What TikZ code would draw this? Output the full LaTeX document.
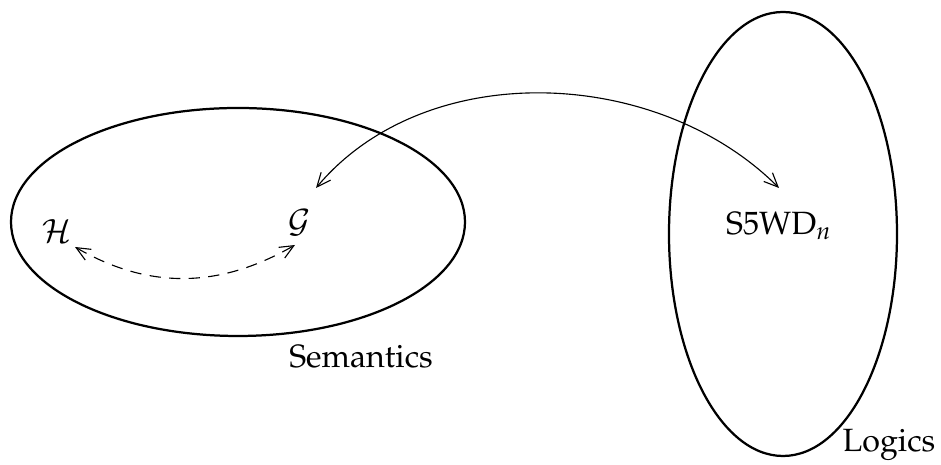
\documentclass[tikz,border=0pt]{standalone}
\usepackage[T1]{fontenc}
\usepackage{mathpazo}
\usetikzlibrary{arrows.meta}
\begin{document}
\begin{tikzpicture}[x=0.357pt,y=0.357pt,
  region/.style={line width=0.8pt},
  lbl/.style={inner sep=0pt,anchor=base},
  link/.style={line width=0.4pt,{Straight Barb[length=5pt,width=4.4pt]}-{Straight Barb[length=5pt,width=4.4pt]}},
  font=\fontsize{11.5}{13}\selectfont]
\useasboundingbox (0,0) rectangle (941,465);
% regions
\draw[region] (238,243) ellipse [x radius=227,y radius=114];
\draw[region] (783,231) ellipse [x radius=114,y radius=222];
% labels
\node[lbl] (H) at (57,222) {$\mathcal{H}$};
\node[lbl] (G) at (299,232) {$\mathcal{G}$};
\node[lbl] (S) at (779,230) {S5WD$_n$};
\node[lbl] (sem) at (361,97) {Semantics};
\node[lbl] (log) at (889,13) {Logics};
% connectors
\draw[link,dash pattern=on 4pt off 3pt] ([shift={(18,-4)}]H.base) to[out=-30,in=-150] ([shift={(-4,-12)}]G.base);
\draw[link] ([shift={(17,45)}]G.base) to[out=50,in=135,looseness=0.95] ([shift={(0,47)}]S.base);
\end{tikzpicture}
\end{document}
